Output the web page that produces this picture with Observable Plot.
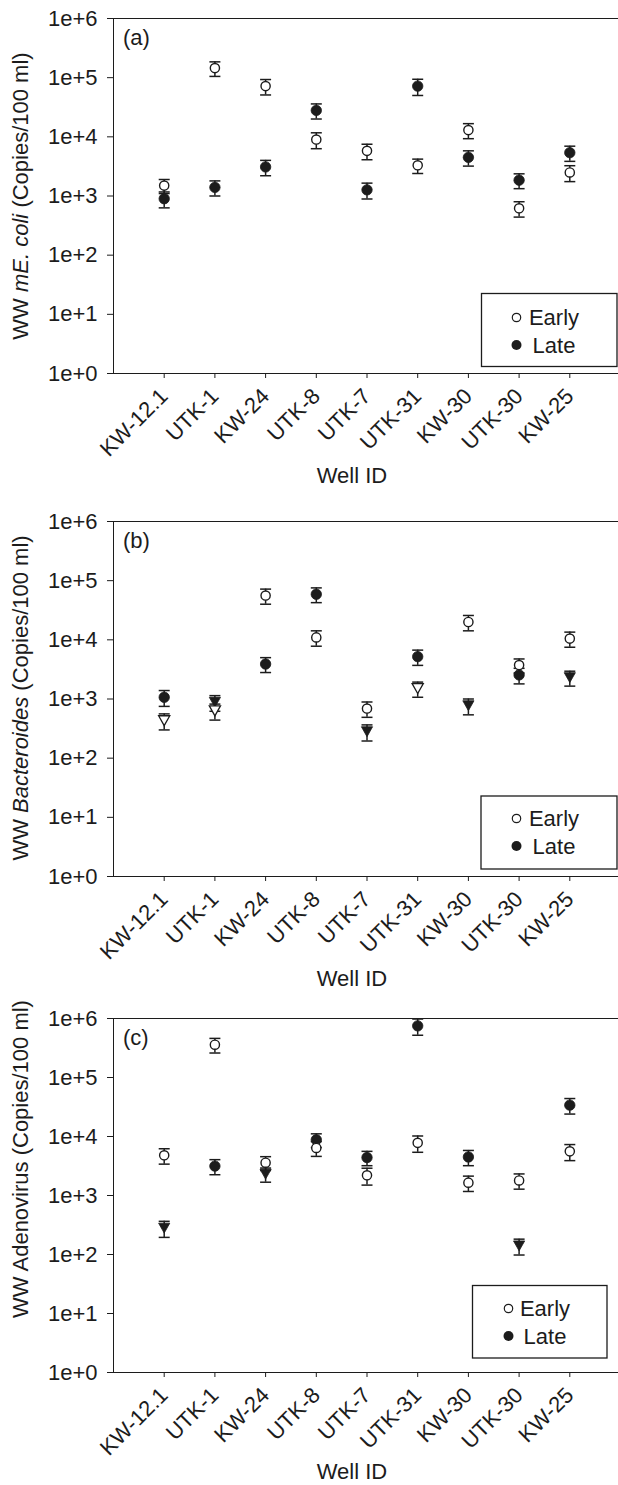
<!DOCTYPE html>
<html><head><meta charset="utf-8">
<script src="https://cdn.jsdelivr.net/npm/d3@7"></script>
<script src="https://cdn.jsdelivr.net/npm/@observablehq/plot@0.6"></script>
<style>
body{margin:0;background:#fff;}
#root{width:618px;}
#root svg{display:block;}
</style></head><body><div id="root"></div>
<script>
// ---- data ----
const wells = ["KW-12.1","UTK-1","KW-24","UTK-8","UTK-7","UTK-31","KW-30","UTK-30","KW-25"];
const yTickValues = [1, 10, 100, 1000, 10000, 100000, 1000000];
const series = ["Early", "Late"];

// (a) WW mE. coli
const earlyA    = [1500, 145000, 72000, 9000, 5800, 3300, 13000, 620, 2500];
const earlyAErr = [400, 40000, 21000, 2700, 1700, 900, 3700, 180, 750];
const earlyAShape = ["circle","circle","circle","circle","circle","circle","circle","circle","circle"];
const lateA     = [900, 1400, 3100, 28000, 1270, 72000, 4500, 1850, 5400];
const lateAErr  = [270, 400, 900, 8000, 380, 22000, 1300, 520, 1550];
const lateAShape = ["circle","circle","circle","circle","circle","circle","circle","circle","circle"];

// (b) WW Bacteroides
const earlyB    = [430, 630, 56000, 11000, 690, 1500, 20000, 3750, 10500];
const earlyBErr = [130, 190, 16000, 3200, 200, 430, 5800, 1000, 3000];
const earlyBShape = ["triangle","triangle","circle","circle","circle","triangle","circle","circle","circle"];
const lateB     = [1070, 880, 3900, 59000, 280, 5200, 770, 2550, 2300];
const lateBErr  = [320, 260, 1100, 16500, 85, 1500, 230, 750, 650];
const lateBShape = ["circle","triangle","circle","circle","triangle","circle","triangle","circle","triangle"];

// (c) WW Adenovirus
const earlyC    = [4800, 360000, 3600, 6400, 2200, 7800, 1650, 1800, 5600];
const earlyCErr = [1400, 100000, 950, 1800, 700, 2400, 480, 520, 1700];
const earlyCShape = ["circle","circle","circle","circle","circle","circle","circle","circle","circle"];
const lateC     = [280, 3150, 2300, 8800, 4400, 750000, 4500, 140, 34000];
const lateCErr  = [85, 900, 620, 2300, 1200, 230000, 1300, 42, 10000];
const lateCShape = ["triangle","circle","triangle","circle","circle","circle","circle","triangle","circle"];

// ---- styling ----
const ink = "#1c1c1c";
const FONT = "'Liberation Sans', Arial, Helvetica, sans-serif";
const FS = 22;

const downTri = { draw(ctx, size) { const r = Math.sqrt(size / Math.PI); const hw = 1.3 * r, hh = 1.15 * r;
  ctx.moveTo(-hw, -hh); ctx.lineTo(hw, -hh); ctx.lineTo(0, hh); ctx.closePath(); } };
const capSym = { draw(ctx, size) { const r = Math.sqrt(size / Math.PI); ctx.moveTo(-r, 0); ctx.lineTo(r, 0); } };

function rows(name, vals, errs, shapes) {
  return wells.map((w, i) => ({idx: i + 1, well: w, series: name, v: vals[i], lo: vals[i] - errs[i], hi: vals[i] + errs[i], shape: shapes[i]}));
}

function panel(cfg) {
  const early = rows(series[0], cfg.early, cfg.earlyErr, cfg.earlyShape);
  const late = rows(series[1], cfg.late, cfg.lateErr, cfg.lateShape);
  const all = [...late, ...early];
  const isC = d => d.shape === "circle", isT = d => d.shape === "triangle";
  const svg = Plot.plot({
    width: 618, height: cfg.height,
    marginLeft: 113, marginRight: 0, marginTop: cfg.mt, marginBottom: cfg.mb,
    style: {fontSize: FS + "px", fontFamily: FONT, color: ink, background: "white", overflow: "visible"},
    x: {domain: [0, 10], range: [113, 620], ticks: wells.map((w, i) => i + 1), tickFormat: i => wells[i - 1],
        tickRotate: -45, tickSize: 5, tickPadding: 14, line: true, label: null},
    y: {type: "log", domain: [1, 1e6], ticks: yTickValues, tickFormat: d => "1e+" + Math.round(Math.log10(d)),
        tickSize: 6, tickPadding: 10, line: true, label: null},
    marks: [
      Plot.ruleY([1e6], {stroke: ink, strokeWidth: 1.2}),
      Plot.ruleX(all, {x: "idx", y1: "lo", y2: "hi", stroke: ink, strokeWidth: 1.5}),
      Plot.dot(all, {x: "idx", y: "hi", symbol: capSym, r: 5.5, stroke: ink, strokeWidth: 1.5, fill: "none"}),
      Plot.dot(all, {x: "idx", y: "lo", symbol: capSym, r: 5.5, stroke: ink, strokeWidth: 1.5, fill: "none"}),
      Plot.dot(late.filter(isC), {x: "idx", y: "v", r: 5.2, fill: ink, stroke: ink, strokeWidth: 0.8}),
      Plot.dot(late.filter(isT), {x: "idx", y: "v", r: 4.3, symbol: downTri, fill: ink, stroke: ink, strokeWidth: 0.8}),
      Plot.dot(early.filter(isC), {x: "idx", y: "v", r: 4.6, fill: "white", stroke: ink, strokeWidth: 1.4}),
      Plot.dot(early.filter(isT), {x: "idx", y: "v", r: 4.3, symbol: downTri, fill: "white", stroke: ink, strokeWidth: 1.3}),
      Plot.text([cfg.label], {text: d => d, frameAnchor: "top-left", dx: 9.5, dy: 11, textAnchor: "start", lineAnchor: "top", fill: ink, fontSize: FS})
    ]
  });
  const s = d3.select(svg);
  // y-axis title with mixed styles
  const t = s.append("text").attr("font-family", FONT).attr("font-size", FS).attr("fill", ink)
    .attr("text-anchor", "middle").attr("transform", `translate(${cfg.titleX},${cfg.titleY}) rotate(-90)`);
  cfg.title.forEach(([str, ital]) => t.append("tspan").attr("font-style", ital ? "italic" : "normal").text(str));
  // x-axis title
  s.append("text").attr("font-family", FONT).attr("font-size", FS).attr("fill", ink)
    .attr("text-anchor", "middle").attr("x", cfg.xTitleX).attr("y", cfg.xTitleY).text("Well ID");
  // legend
  const L = cfg.legend;
  const g = s.append("g").attr("font-family", FONT).attr("font-size", FS).attr("fill", ink);
  g.append("rect").attr("x", L.x).attr("y", L.y).attr("width", L.w).attr("height", L.h)
    .attr("fill", "white").attr("stroke", ink).attr("stroke-width", 1.3);
  g.append("circle").attr("cx", L.mx).attr("cy", L.y1).attr("r", 4.2).attr("fill", "white").attr("stroke", ink).attr("stroke-width", 1.2);
  g.append("circle").attr("cx", L.mx).attr("cy", L.y2).attr("r", 5).attr("fill", ink);
  g.append("text").attr("x", L.tx).attr("y", L.y1).attr("dy", "0.36em").text(series[0]);
  g.append("text").attr("x", L.tx).attr("y", L.y2).attr("dy", "0.36em").text(series[1]);
  document.getElementById("root").appendChild(svg);
}

panel({label: "(a)", early: earlyA, earlyErr: earlyAErr, earlyShape: earlyAShape, late: lateA, lateErr: lateAErr, lateShape: lateAShape,
  height: 500, mt: 18, mb: 127,
  title: [["WW ", false], ["mE. coli", true], [" (Copies/100 ml)", false]], titleX: 28, titleY: 196,
  xTitleX: 352, xTitleY: 483,
  legend: {x: 481.5, y: 293.5, w: 135.5, h: 73, mx: 516.5, tx: 554, y1: 317.5, y2: 345}});

panel({label: "(b)", early: earlyB, earlyErr: earlyBErr, earlyShape: earlyBShape, late: lateB, lateErr: lateBErr, lateShape: lateBShape,
  height: 500, mt: 21, mb: 124,
  title: [["WW ", false], ["Bacteroides", true], [" (Copies/100 ml)", false]], titleX: 28, titleY: 198,
  xTitleX: 352, xTitleY: 486,
  legend: {x: 481, y: 296, w: 136, h: 73, mx: 516.5, tx: 554, y1: 318.5, y2: 346}});

panel({label: "(c)", early: earlyC, earlyErr: earlyCErr, earlyShape: earlyCShape, late: lateC, lateErr: lateCErr, lateShape: lateCShape,
  height: 485, mt: 18, mb: 113,
  title: [["WW Adenovirus (Copies/100 ml)", false]], titleX: 28, titleY: 159,
  xTitleX: 352, xTitleY: 479,
  legend: {x: 472.5, y: 285.5, w: 134.5, h: 72.5, mx: 508.5, tx: 545, y1: 308.5, y2: 336}});
</script>
</body></html>
